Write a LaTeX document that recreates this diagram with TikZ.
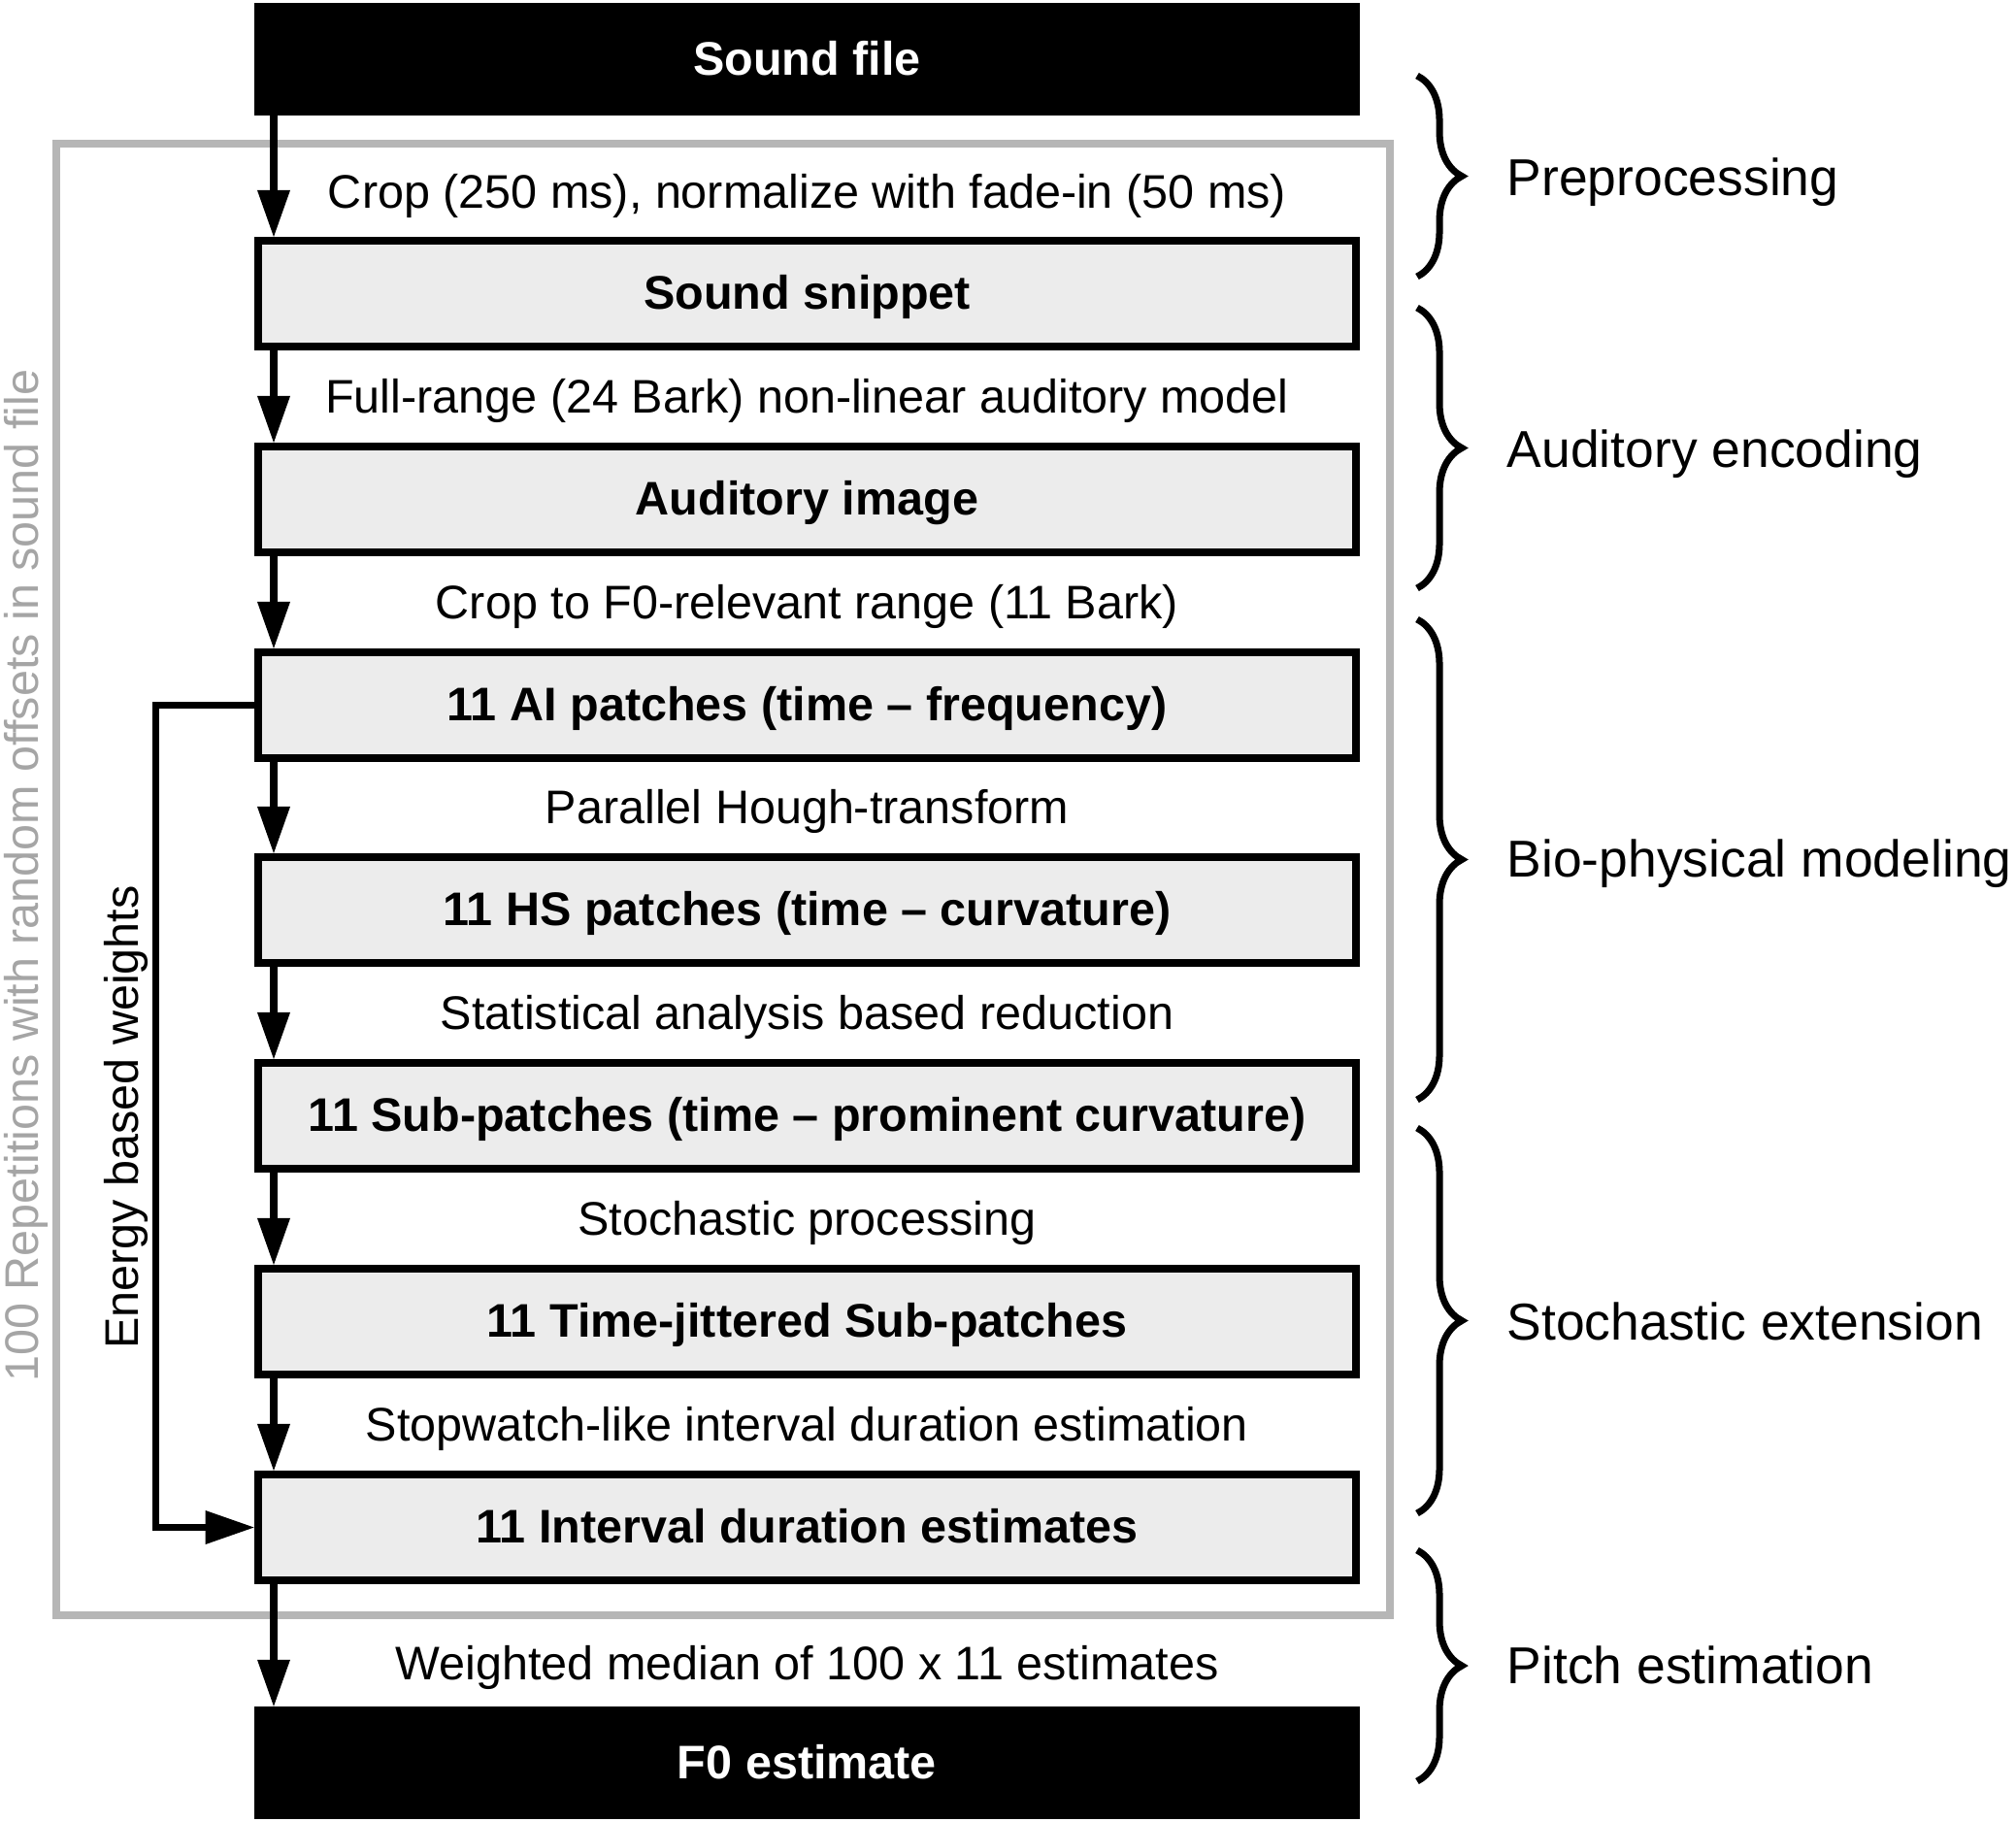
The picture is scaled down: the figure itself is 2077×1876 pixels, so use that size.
\documentclass[tikz,border=0pt]{standalone}
\usepackage{fontspec}
\setmainfont{Liberation Sans}
\usetikzlibrary{arrows.meta,decorations.pathreplacing}
\definecolor{framegray}{RGB}{182,182,182}
\definecolor{textgray}{RGB}{165,165,165}
\definecolor{boxfill}{RGB}{236,236,236}
\tikzset{
  % text sizes
  txt/.style={font=\fontsize{13.8}{16}\selectfont, text height=0.32cm, text depth=0pt},
  boldtxt/.style={font=\fontsize{13.8}{16}\selectfont\bfseries, text height=0.32cm, text depth=0pt},
  % black input / output boxes
  endbox/.style={boldtxt, fill=black, text=white, minimum width=11.39cm, minimum height=1.15cm, inner sep=0pt},
  % grey stage boxes
  stagebox/.style={boldtxt, draw=black, line width=0.08cm, fill=boxfill, minimum width=11.31cm, minimum height=1.09cm, inner sep=0pt},
  % arrows
  arr/.style={-{Triangle[length=0.48cm,width=0.34cm,line width=0pt]}, line width=0.08cm},
  fbarr/.style={-{Triangle[length=0.5cm,width=0.35cm,line width=0pt]}, line width=0.07cm},
  % braces on the right
  brc/.style={decorate, decoration={brace, amplitude=0.46cm}, line width=0.07cm},
  brlab/.style={font=\fontsize{15.2}{18}\selectfont, text height=0.35cm, text depth=0pt, anchor=west, inner sep=0pt},
}

\begin{document}
\begin{tikzpicture}[x=0.01cm, y=-0.01cm]
    \useasboundingbox (0,0) rectangle (2077,1876);

    % Repetition frame
    \draw[framegray, line width=0.08cm] (58,148) rectangle (1432,1664);
    \node[font=\fontsize{13.8}{16}\selectfont, text=textgray, rotate=90] (rep) at (27,902) {100 Repetitions with random offsets in sound file};

    % Boxes
    \node[endbox] (snd) at (831.5,61) {Sound file};
    \node[stagebox] (snip) at (831.5,302.5) {Sound snippet};
    \node[stagebox] (audimg) at (831.5,514.5) {Auditory image};
    \node[stagebox] (aip) at (831.5,726.5) {11 AI patches (time -- frequency)};
    \node[stagebox] (hsp) at (831.5,937.5) {11 HS patches (time -- curvature)};
    \node[stagebox] (subp) at (831.5,1149.5) {11 Sub-patches (time -- prominent curvature)};
    \node[stagebox] (jit) at (831.5,1361.5) {11 Time-jittered Sub-patches};
    \node[stagebox] (ide) at (831.5,1573.5) {11 Interval duration estimates};
    \node[endbox] (fzero) at (831.5,1816) {F0 estimate};

    % Step labels
    \node[txt] (lcrop) at (831.5,198) {Crop (250 ms), normalize with fade-in (50 ms)};
    \node[txt] (lmodel) at (831.5,409) {Full-range (24 Bark) non-linear auditory model};
    \node[txt] (lrange) at (831.5,621) {Crop to F0-relevant range (11 Bark)};
    \node[txt] (lhough) at (831.5,832) {Parallel Hough-transform};
    \node[txt] (lstat) at (831.5,1044) {Statistical analysis based reduction};
    \node[txt] (lstoch) at (831.5,1256) {Stochastic processing};
    \node[txt] (lwatch) at (831.5,1468) {Stopwatch-like interval duration estimation};
    \node[txt] (lmedian) at (831.5,1714) {Weighted median of 100 x 11 estimates};

    % Main arrows
    \coordinate (ax) at (282,0);
    \draw[arr] (snd.south -| ax) -- (snip.north -| ax);
    \draw[arr] (snip.south -| ax) -- (audimg.north -| ax);
    \draw[arr] (audimg.south -| ax) -- (aip.north -| ax);
    \draw[arr] (aip.south -| ax) -- (hsp.north -| ax);
    \draw[arr] (hsp.south -| ax) -- (subp.north -| ax);
    \draw[arr] (subp.south -| ax) -- (jit.north -| ax);
    \draw[arr] (jit.south -| ax) -- (ide.north -| ax);
    \draw[arr] (ide.south -| ax) -- (fzero.north -| ax);

    % Energy weights
    \coordinate (fbx) at (160,0);
    \draw[fbarr] (aip.west) -- (aip.west -| fbx) -- (ide.west -| fbx) -- (ide.west);
    \node[font=\fontsize{13.8}{16}\selectfont, rotate=90] (lwgt) at (130,1151) {Energy based weights};

    % Braces
    \draw[brc] (1460,78) -- (1460,285);
    \node[brlab] (bpre) at (1552,184) {Preprocessing};
    \draw[brc] (1460,317) -- (1460,606);
    \node[brlab] (baud) at (1552,464) {Auditory encoding};
    \draw[brc] (1460,638) -- (1460,1133);
    \node[brlab] (bbio) at (1552,886) {Bio-physical modeling};
    \draw[brc] (1460,1162) -- (1460,1559);
    \node[brlab] (bsto) at (1552,1363) {Stochastic extension};
    \draw[brc] (1460,1597) -- (1460,1835);
    \node[brlab] (bpit) at (1552,1717) {Pitch estimation};
\end{tikzpicture}
\end{document}
